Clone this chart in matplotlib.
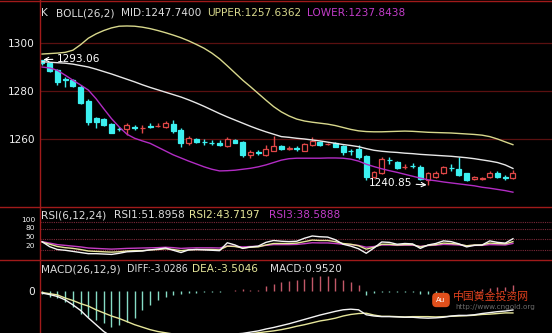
import matplotlib
matplotlib.use("Agg")
import matplotlib.pyplot as plt
from matplotlib.lines import Line2D

W, H = 552, 333

# ---------------- data ----------------
opens = [1292.8, 1291.5, 1288.8, 1284.8, 1284.6, 1281.5, 1276.0, 1268.7, 1268.3, 1266.3,
         1264.3, 1264.2, 1264.8, 1264.5, 1265.3, 1265.3, 1265.0, 1266.3, 1263.7, 1258.4,
         1260.0, 1258.8, 1258.4, 1258.5, 1257.0, 1259.6, 1258.7, 1253.3, 1254.4, 1253.5,
         1255.2, 1257.0, 1256.0, 1256.2, 1255.1, 1257.5, 1258.9, 1257.8, 1258.3, 1257.2,
         1255.1, 1255.7, 1252.9, 1244.0, 1245.7, 1251.4, 1250.6, 1248.2, 1248.8, 1248.5,
         1242.9, 1244.0, 1245.7, 1248.0, 1247.4, 1245.7, 1243.2, 1243.5, 1244.3, 1246.0,
         1244.1, 1243.6]
closes = [1291.8, 1288.5, 1283.9, 1284.4, 1282.1, 1275.0, 1267.0, 1267.2, 1265.9, 1262.5,
          1264.1, 1265.8, 1264.5, 1264.7, 1265.0, 1265.6, 1266.7, 1263.3, 1258.5, 1260.4,
          1258.9, 1258.6, 1258.2, 1257.3, 1260.0, 1258.5, 1253.3, 1254.7, 1254.2, 1256.0,
          1257.0, 1255.9, 1256.2, 1256.0, 1257.9, 1259.3, 1257.5, 1258.0, 1256.8, 1254.7,
          1254.9, 1252.6, 1244.3, 1246.4, 1251.5, 1251.2, 1247.8, 1248.4, 1248.6, 1243.2,
          1245.7, 1246.0, 1248.2, 1247.8, 1245.0, 1242.9, 1244.3, 1243.7, 1246.0, 1244.0,
          1243.9, 1246.0]
highs = [1293.06, 1292.0, 1289.0, 1285.8, 1285.0, 1282.5, 1276.5, 1269.2, 1268.7, 1266.6,
         1265.0, 1266.7, 1265.8, 1265.9, 1266.8, 1266.6, 1267.4, 1268.0, 1264.6, 1261.3,
         1260.5, 1259.8, 1259.6, 1259.4, 1261.0, 1260.0, 1259.2, 1255.3, 1255.5, 1257.5,
         1261.2, 1257.4, 1257.0, 1257.2, 1258.3, 1261.0, 1259.3, 1258.5, 1258.7, 1257.6,
         1256.0, 1257.5, 1253.3, 1246.8, 1252.6, 1252.6, 1251.0, 1249.5, 1250.2, 1249.0,
         1246.2, 1246.7, 1248.6, 1249.6, 1252.5, 1246.0, 1244.6, 1244.2, 1246.6, 1246.5,
         1245.0, 1246.9]
lows = [1291.0, 1288.0, 1282.5, 1281.5, 1281.8, 1274.5, 1266.0, 1264.6, 1265.5, 1262.3,
        1263.4, 1261.7, 1263.8, 1262.5, 1264.6, 1264.8, 1264.6, 1262.7, 1256.7, 1257.6,
        1258.5, 1257.7, 1257.4, 1257.0, 1256.6, 1258.2, 1252.6, 1252.2, 1253.4, 1252.9,
        1254.8, 1255.5, 1255.3, 1255.2, 1254.9, 1257.0, 1257.1, 1257.3, 1256.5, 1253.3,
        1253.3, 1251.8, 1242.9, 1243.6, 1245.3, 1249.5, 1247.4, 1247.5, 1247.8, 1242.9,
        1240.85, 1243.6, 1245.3, 1246.6, 1244.6, 1242.6, 1242.9, 1243.1, 1243.9, 1243.6,
        1243.0, 1243.3]

boll_upper = [1295.4, 1295.6, 1295.8, 1296.1, 1297.0, 1299.3, 1302.0, 1303.8, 1305.2, 1306.3,
              1307.0, 1307.1, 1307.0, 1306.6, 1306.0, 1305.2, 1304.3, 1303.3, 1302.2, 1300.9,
              1299.4, 1297.8, 1295.8, 1293.4, 1290.5, 1287.5, 1284.5, 1281.8, 1279.0, 1276.2,
              1273.5, 1271.3, 1269.6, 1268.3, 1267.5, 1267.0, 1266.6, 1266.2, 1265.6, 1264.8,
              1264.0, 1263.4, 1263.1, 1263.0, 1263.0, 1263.1, 1263.2, 1263.3, 1263.2, 1263.0,
              1262.8, 1262.7, 1262.6, 1262.5, 1262.3, 1262.1, 1261.9, 1261.6, 1261.0, 1260.0,
              1258.8, 1257.6362]
boll_mid = [1292.2, 1292.0, 1291.8, 1291.6, 1291.2, 1290.6, 1290.0, 1289.1, 1288.1, 1287.1,
            1286.0, 1284.9, 1283.8, 1282.6, 1281.5, 1280.5, 1279.5, 1278.5, 1277.5, 1276.3,
            1275.0, 1273.6, 1272.1, 1270.6, 1269.2, 1267.9, 1266.6, 1265.3, 1264.1, 1263.0,
            1262.0, 1261.0, 1260.7, 1260.3, 1260.0, 1259.6, 1259.2, 1258.7, 1258.2, 1257.7,
            1257.3, 1256.8, 1256.0, 1255.3, 1254.9, 1254.6, 1254.4, 1254.1, 1253.9, 1253.6,
            1253.4, 1253.2, 1253.0, 1252.8, 1252.5, 1252.2, 1251.8, 1251.3, 1250.8, 1250.2,
            1249.2, 1247.74]
boll_lower = [1290.0, 1289.6, 1288.6, 1286.6, 1284.5, 1282.5, 1280.4, 1276.8, 1272.6, 1268.5,
              1265.0, 1262.0, 1260.3, 1259.2, 1258.2, 1256.6, 1255.0, 1253.4, 1252.1, 1250.8,
              1249.6, 1248.4, 1247.4, 1246.7, 1246.8, 1247.0, 1247.4, 1247.8, 1248.4, 1249.2,
              1250.2, 1251.2, 1251.8, 1252.0, 1252.0, 1252.0, 1252.0, 1252.1, 1252.1, 1252.0,
              1251.6, 1250.8, 1249.5, 1248.5, 1247.6, 1246.8, 1246.1, 1245.3, 1244.5, 1243.7,
              1243.0, 1242.6, 1242.1, 1241.7, 1241.3, 1240.9, 1240.5, 1239.9, 1239.5, 1239.0,
              1238.5, 1237.8438]

rsi1 = [43.5, 29.4, 21.4, 19.3, 16.1, 12.9, 9.7, 9.7, 8.7, 7.6,
        10.8, 15.0, 16.1, 17.2, 20.4, 22.5, 25.7, 19.3, 12.9, 20.4,
        21.4, 20.4, 19.3, 18.2, 40.5, 34.2, 24.6, 28.8, 31.0, 41.6,
        46.9, 44.8, 43.7, 44.8, 53.3, 59.6, 57.5, 56.5, 49.0, 36.3,
        31.0, 23.5, 10.8, 25.7, 42.7, 41.6, 36.3, 38.4, 37.3, 24.6,
        34.2, 38.4, 45.8, 43.7, 37.3, 28.8, 33.1, 34.2, 45.8, 41.6,
        39.5, 51.8958]
rsi2 = [42.7, 36.3, 29.9, 26.7, 24.6, 21.4, 17.2, 16.1, 15.0, 14.0,
        15.0, 17.2, 18.2, 18.2, 20.4, 21.4, 23.5, 21.4, 18.2, 20.4,
        21.4, 21.4, 21.4, 20.4, 31.0, 29.9, 25.7, 27.8, 28.8, 34.2,
        38.4, 38.4, 38.4, 39.5, 43.7, 48.0, 46.9, 46.9, 43.7, 38.4,
        36.3, 32.0, 22.5, 27.8, 36.3, 36.3, 34.2, 35.2, 35.2, 28.8,
        33.1, 35.2, 39.5, 38.4, 36.3, 32.0, 34.2, 34.2, 39.5, 38.4,
        37.3, 43.7197]
rsi3 = [43.7, 39.5, 35.2, 33.1, 31.0, 28.8, 25.7, 24.6, 23.5, 22.5,
        23.5, 24.6, 25.1, 25.7, 26.2, 26.7, 27.8, 26.7, 24.6, 25.7,
        26.2, 26.2, 26.2, 25.7, 31.0, 30.4, 28.8, 29.9, 30.4, 33.1,
        35.2, 35.2, 35.2, 35.8, 37.9, 40.5, 40.0, 40.0, 38.4, 36.3,
        35.2, 33.1, 27.8, 29.9, 34.2, 34.2, 33.1, 33.6, 33.6, 30.4,
        32.6, 33.6, 35.8, 35.2, 34.2, 32.0, 33.1, 33.1, 35.2, 34.7,
        34.2, 38.5888]

diff = [-0.3, -0.55, -0.85, -1.4, -2.2, -3.1, -4.3, -5.4, -6.5, -7.3,
        -7.8, -8.0, -8.0, -7.9, -7.8, -7.6, -7.5, -7.4, -7.35, -7.3,
        -7.25, -7.2, -7.15, -7.1, -7.0, -6.9, -6.8, -6.6, -6.4, -6.1,
        -5.85, -5.55, -5.25, -4.9, -4.55, -4.2, -3.85, -3.55, -3.25, -3.0,
        -2.9, -3.0, -3.8, -4.0, -4.1, -4.1, -4.15, -4.2, -4.2, -4.3,
        -4.35, -4.3, -4.2, -4.0, -3.9, -3.9, -3.8, -3.6, -3.45, -3.3,
        -3.2, -3.0286]
dea = [-0.2, -0.4, -0.6, -1.1, -1.5, -2.0, -2.4, -3.0, -3.5, -4.0,
       -4.4, -4.9, -5.4, -5.8, -6.2, -6.5, -6.7, -6.9, -7.0, -7.1,
       -7.1, -7.1, -7.1, -7.05, -7.0, -7.0, -6.95, -6.85, -6.7, -6.55,
       -6.4, -6.2, -5.95, -5.65, -5.4, -5.1, -4.8, -4.6, -4.35, -4.0,
       -3.75, -3.6, -3.55, -3.85, -4.05, -4.05, -4.1, -4.15, -4.1, -4.1,
       -4.1, -4.15, -4.1, -4.05, -4.0, -3.95, -3.88, -3.75, -3.7, -3.6,
       -3.5, -3.5046]
macd_hist = [-0.4, -0.9, -1.15, -1.7, -2.5, -3.6, -4.1, -4.6, -5.2, -5.7,
             -5.45, -4.9, -4.4, -3.0, -2.2, -1.4, -0.9, -0.6, -0.45, -0.3,
             -0.3, -0.2, -0.15, -0.1, 0.1, 0.12, 0.3, 0.12, 0.25, 0.87,
             1.16, 1.43, 1.7, 1.8, 2.0, 2.3, 2.4, 2.4, 2.2, 1.8,
             1.43, 1.03, -0.6, -0.25, -0.1, -0.15, -0.1, -0.1, -0.2, -0.45,
             -0.5, -0.3, -0.2, 0.05, 0.2, 0.1, 0.15, 0.3, 0.5, 0.6,
             0.6, 0.952]

price_ticks = [1260, 1280, 1300]
rsi_levels = [100, 80, 50, 20]
rsi_labels = ["100", "80", "50", "20"]

# ---------------- styles ----------------
BG = "black"
RED = "#e04848"
CYAN = "#3cf0f0"
FRAME = "#a01a1a"
GRID = "#5a1010"
C_UP = "#d8d88c"
C_MID = "#e8e8e8"
C_LOW = "#b22cc4"
FS = 7.6

fig = plt.figure(figsize=(W / 100, H / 100), dpi=100, facecolor=BG)


def rect(x0, y0, x1, y1):
    return [x0 / W, 1 - y1 / H, (x1 - x0) / W, (y1 - y0) / H]


axm = fig.add_axes(rect(40, 0, 552, 207))
axr = fig.add_axes(rect(40, 207, 552, 260))
axd = fig.add_axes(rect(40, 260, 552, 333))
for ax in (axm, axr, axd):
    ax.set_facecolor(BG)
    ax.set_xlim(-0.26, 66.06)
    ax.set_xticks([])
    for s in ax.spines.values():
        s.set_visible(False)
    ax.tick_params(axis="y", length=0, pad=3.6, labelsize=FS, labelcolor="#f0f0f0")

axm.set_ylim(1231.67, 1317.92)
axr.set_ylim(-8.2, 141.5)
axd.set_ylim(-6.74, 5.03)

idx = list(range(len(opens)))

# ---- main panel ----
for v in price_ticks:
    axm.axhline(v, color=GRID, lw=0.9, zorder=0)
axm.set_yticks(price_ticks)
axm.set_yticklabels([str(v) for v in price_ticks])

up = [c >= o for o, c in zip(opens, closes)]
cols = [RED if u else CYAN for u in up]
axm.vlines(idx, lows, highs, colors=cols, lw=1.0, zorder=2)
bottoms = [min(o, c) for o, c in zip(opens, closes)]
heights = [abs(c - o) for o, c in zip(opens, closes)]
axm.bar(idx, heights, bottom=bottoms, width=0.64,
        facecolor=[BG if u else CYAN for u in up], edgecolor=cols, lw=0.9, zorder=3)

axm.plot(idx, boll_upper, color=C_UP, lw=1.0, zorder=4)
axm.plot(idx, boll_mid, color=C_MID, lw=1.0, zorder=4)
axm.plot(idx, boll_lower, color=C_LOW, lw=1.0, zorder=4)

imax = highs.index(max(highs))
imin = lows.index(min(lows))
axm.annotate(f"{highs[imax]:.2f}", xy=(imax, highs[imax]), xytext=(15, 1),
             textcoords="offset pixels", color="white", fontsize=7.6,
             ha="left", va="center",
             arrowprops=dict(arrowstyle="->", color="white", lw=0.8,
                             shrinkA=1, shrinkB=1), zorder=6)
axm.annotate(f"{lows[imin]:.2f}", xy=(imin, lows[imin]), xytext=(-16, 2),
             textcoords="offset pixels", color="white", fontsize=7.6,
             ha="right", va="center",
             arrowprops=dict(arrowstyle="->", color="white", lw=0.8,
                             shrinkA=1, shrinkB=1), zorder=6)

# ---- RSI panel ----
axr.set_yticks([])
for v in rsi_levels:
    axr.axhline(v, color="#7a2838", lw=0.8, ls=(0, (1, 1)), zorder=0)
axr.plot(idx, rsi3, color="#c43cc4", lw=1.0)
axr.plot(idx, rsi2, color="#e6e69a", lw=1.0)
axr.plot(idx, rsi1, color="#f4f4f4", lw=1.0)
for lab, y in zip(rsi_labels, [219.6, 228.3, 237.0, 245.7]):
    fig.text(35 / W, 1 - y / H, lab, color="#f0f0f0", fontsize=5.4,
             ha="right", va="center")

# ---- MACD panel ----
axd.set_yticks([0])
axd.set_yticklabels(["0"])
neg_i = [i for i, v in zip(idx, macd_hist) if v < 0]
neg_v = [v for v in macd_hist if v < 0]
pos_i = [i for i, v in zip(idx, macd_hist) if v >= 0]
pos_v = [v for v in macd_hist if v >= 0]
axd.vlines(neg_i, 0, neg_v, colors="#86dcc6", lw=1.0)
axd.vlines(pos_i, 0, pos_v, colors="#c25868", lw=1.0)
axd.plot(idx, dea, color="#e6e69a", lw=1.0)
axd.plot(idx, diff, color="#f4f4f4", lw=1.0)

# ---- titles ----
def t(x, y, s, c, fs=FS, **kw):
    fig.text(x / W, 1 - y / H, s, color=c, fontsize=fs, ha="left", va="center", **kw)

WHITE_T = "#dcdcdc"
t(41, 13.5, "K", WHITE_T)
t(56, 13.5, "BOLL(26,2)", WHITE_T)
t(121.5, 13.5, f"MID:{boll_mid[-1]:.4f}", WHITE_T)
t(207, 13.5, f"UPPER:{boll_upper[-1]:.4f}", C_UP)
t(306.5, 13.5, f"LOWER:{boll_lower[-1]:.4f}", "#c23cc8")

t(41, 215, "RSI(6,12,24)", WHITE_T)
t(114, 215, f"RSI1:{rsi1[-1]:.4f}", WHITE_T)
t(189.5, 215, f"RSI2:{rsi2[-1]:.4f}", "#e6e69a")
t(268.5, 215, f"RSI3:{rsi3[-1]:.4f}", "#c23cc8")

t(41, 269.5, "MACD(26,12,9)", WHITE_T)
t(126.5, 269.5, f"DIFF:{diff[-1]:.4f}", WHITE_T, fs=6.9)
t(192, 269.5, f"DEA:{dea[-1]:.4f}", "#e6e69a")
t(270, 269.5, f"MACD:{macd_hist[-1]:.4f}", WHITE_T)

# ---- frame lines ----
def fline(x0, y0, x1, y1, c=FRAME, lw=1.0):
    fig.add_artist(Line2D([x0 / W, x1 / W], [1 - y0 / H, 1 - y1 / H],
                          color=c, lw=lw, transform=fig.transFigure))

fline(40, 0, 40, H)
fline(0, 206.5, W, 206.5)
fline(0, 260, W, 260)
fline(0, 1, W, 1)

# ---- watermark ----
fig.text(441 / W, 1 - 300 / H, "Au", color="white", fontsize=5, ha="center", va="center",
         bbox=dict(boxstyle="round,pad=0.5", fc="#e0501c", ec="#e0501c"))
fig.text(453 / W, 1 - 296.5 / H, "中国黄金投资网", color="#e0401e", fontsize=7.8,
         ha="left", va="center", family=["Noto Sans CJK SC", "DejaVu Sans"])
fig.text(455 / W, 1 - 307 / H, "http://www.cngold.org", color="#6a6a6a", fontsize=5.2,
         ha="left", va="center")

fig.savefig("out.png", dpi=100, facecolor=BG)
